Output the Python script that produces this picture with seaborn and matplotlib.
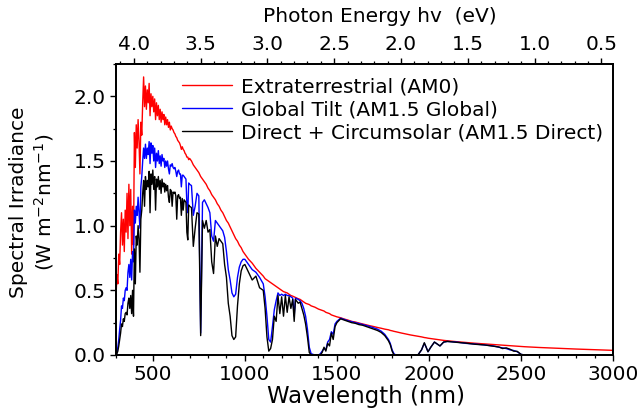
import matplotlib
matplotlib.use("Agg")
import matplotlib.pyplot as plt
from matplotlib.ticker import MultipleLocator, FormatStrFormatter
import seaborn as sns

# ---------------------------------------------------------------------------
# Solar spectral irradiance (W m^-2 nm^-1), sampled in four wavelength bands
# ---------------------------------------------------------------------------

# UV / visible band, 5 nm sampling
wl_uv = [300, 305, 310, 315, 320, 325, 330, 335, 340, 345,
         350, 355, 360, 365, 370, 375, 380, 385, 390, 395,
         400, 405, 410, 415, 420, 425, 430, 435, 440, 445,
         450, 455, 460, 465, 470, 475, 480, 485, 490, 495,
         500, 505, 510, 515, 520, 525, 530, 535, 540, 545,
         550, 555, 560, 565, 570, 575, 580, 585, 590, 595,
         600, 605, 610, 615, 620, 625, 630, 635, 640, 645,
         650, 655, 660, 665, 670, 675, 680, 685, 690, 695,
         700]
am0_uv = [0.45, 0.62, 0.55, 0.78, 0.70, 0.95, 1.10, 0.85, 1.05, 0.80,
          1.12, 0.95, 1.25, 0.90, 1.32, 1.00, 1.28, 0.78, 1.15, 0.85,
          1.72, 1.45, 1.78, 1.60, 1.82, 1.65, 1.40, 1.80, 1.70, 1.95,
          2.15, 1.92, 2.08, 1.90, 2.05, 1.95, 2.10, 1.85, 2.02, 1.92,
          2.00, 1.88, 1.98, 1.82, 1.95, 1.85, 1.93, 1.82, 1.90, 1.80,
          1.88, 1.82, 1.86, 1.78, 1.84, 1.78, 1.82, 1.76, 1.80, 1.74,
          1.77, 1.75, 1.74, 1.72, 1.71, 1.69, 1.68, 1.66, 1.65, 1.64,
          1.62, 1.59, 1.61, 1.59, 1.58, 1.56, 1.55, 1.53, 1.53, 1.51,
          1.52]
glob_uv = [0.00, 0.02, 0.06, 0.12, 0.20, 0.27, 0.38, 0.36, 0.44, 0.42,
           0.50, 0.52, 0.50, 0.64, 0.70, 0.60, 0.74, 0.58, 0.80, 0.72,
           1.12, 1.02, 1.15, 1.08, 1.22, 1.10, 0.98, 1.30, 1.38, 1.50,
           1.60, 1.52, 1.63, 1.52, 1.60, 1.55, 1.65, 1.48, 1.64, 1.56,
           1.62, 1.50, 1.60, 1.45, 1.56, 1.50, 1.58, 1.48, 1.54, 1.46,
           1.55, 1.50, 1.52, 1.45, 1.50, 1.46, 1.50, 1.44, 1.40, 1.47,
           1.46, 1.48, 1.45, 1.44, 1.45, 1.42, 1.38, 1.42, 1.43, 1.40,
           1.40, 1.30, 1.39, 1.39, 1.38, 1.37, 1.36, 1.17, 1.10, 1.33,
           1.32]
dir_uv = [0.00, 0.01, 0.03, 0.07, 0.12, 0.17, 0.24, 0.22, 0.28, 0.26,
          0.32, 0.33, 0.31, 0.40, 0.44, 0.36, 0.46, 0.32, 0.50, 0.30,
          0.82, 0.55, 0.92, 0.85, 1.00, 0.90, 0.64, 1.05, 1.12, 1.25,
          1.35, 1.15, 1.38, 1.28, 1.35, 1.30, 1.42, 1.10, 1.40, 1.32,
          1.43, 1.28, 1.38, 1.12, 1.36, 1.30, 1.38, 1.28, 1.35, 1.25,
          1.36, 1.30, 1.33, 1.26, 1.32, 1.27, 1.31, 1.22, 1.18, 1.28,
          1.27, 1.15, 1.26, 1.25, 1.26, 1.23, 1.05, 1.23, 1.24, 1.21,
          1.22, 1.08, 1.21, 1.12, 1.20, 1.19, 1.18, 0.95, 0.89, 1.16,
          1.15]

# Near infrared band, 10 nm sampling
wl_nir = [710, 720, 730, 740, 750, 760, 770, 780, 790, 800,
          810, 820, 830, 840, 850, 860, 870, 880, 890, 900,
          910, 920, 930, 940, 950, 960, 970, 980, 990, 1000]
am0_nir = [1.50, 1.47, 1.45, 1.43, 1.41, 1.38, 1.36, 1.34, 1.32, 1.29,
           1.27, 1.24, 1.22, 1.20, 1.17, 1.15, 1.12, 1.10, 1.07, 1.04,
           1.02, 0.99, 0.96, 0.93, 0.90, 0.88, 0.85, 0.83, 0.80, 0.78]
glob_nir = [1.31, 1.08, 1.15, 1.25, 1.23, 0.17, 1.18, 1.20, 1.17, 1.14,
            1.10, 0.92, 0.88, 1.04, 1.02, 1.00, 0.98, 0.96, 0.91, 0.80,
            0.66, 0.58, 0.48, 0.45, 0.47, 0.60, 0.68, 0.72, 0.74, 0.74]
dir_nir = [1.14, 0.84, 0.98, 1.10, 1.09, 0.15, 1.04, 0.98, 1.04, 0.95,
           0.97, 0.72, 0.63, 0.92, 0.84, 0.90, 0.88, 0.86, 0.70, 0.60,
           0.40, 0.30, 0.15, 0.12, 0.14, 0.38, 0.55, 0.65, 0.69, 0.70]

# Short-wave infrared band with the water absorption windows
wl_swir = [1020, 1040, 1060, 1080, 1100, 1110, 1120, 1130, 1140, 1150,
           1160, 1170, 1180, 1190, 1200, 1210, 1220, 1230, 1240, 1250,
           1260, 1268, 1275, 1290, 1300, 1310, 1320, 1330, 1340, 1350,
           1360, 1380, 1400, 1410, 1420, 1430, 1440, 1450, 1460, 1470,
           1480, 1490, 1500, 1520, 1540, 1560, 1580, 1600, 1620, 1640,
           1660, 1680, 1700, 1720, 1740, 1760, 1780, 1790, 1800, 1810,
           1820]
am0_swir = [0.74, 0.71, 0.67, 0.64, 0.61, 0.59, 0.58, 0.57, 0.56, 0.55,
            0.54, 0.53, 0.52, 0.51, 0.50, 0.49, 0.485, 0.48, 0.47, 0.46,
            0.455, 0.45, 0.445, 0.435, 0.43, 0.42, 0.41, 0.40, 0.395, 0.39,
            0.38, 0.37, 0.355, 0.35, 0.345, 0.34, 0.33, 0.325, 0.32, 0.31,
            0.305, 0.30, 0.295, 0.288, 0.278, 0.27, 0.26, 0.255, 0.247, 0.24,
            0.233, 0.226, 0.22, 0.213, 0.207, 0.20, 0.195, 0.19, 0.187, 0.183,
            0.18]
glob_swir = [0.70, 0.66, 0.64, 0.60, 0.55, 0.45, 0.30, 0.12, 0.10, 0.22,
             0.35, 0.42, 0.48, 0.46, 0.47, 0.46, 0.47, 0.46, 0.46, 0.45,
             0.44, 0.30, 0.44, 0.43, 0.42, 0.40, 0.36, 0.30, 0.20, 0.06,
             0.01, 0.00, 0.00, 0.01, 0.03, 0.05, 0.04, 0.10, 0.12, 0.18,
             0.16, 0.24, 0.26, 0.285, 0.275, 0.265, 0.258, 0.25, 0.243, 0.236,
             0.228, 0.22, 0.21, 0.20, 0.185, 0.16, 0.12, 0.09, 0.04, 0.01,
             0.00]
dir_swir = [0.64, 0.58, 0.61, 0.52, 0.50, 0.36, 0.14, 0.03, 0.05, 0.12,
            0.30, 0.26, 0.46, 0.32, 0.45, 0.30, 0.46, 0.33, 0.45, 0.36,
            0.43, 0.26, 0.43, 0.40, 0.41, 0.36, 0.31, 0.24, 0.14, 0.02,
            0.00, 0.00, 0.00, 0.00, 0.02, 0.06, 0.03, 0.09, 0.07, 0.17,
            0.12, 0.22, 0.25, 0.28, 0.27, 0.26, 0.25, 0.245, 0.235, 0.23,
            0.22, 0.21, 0.20, 0.19, 0.175, 0.15, 0.11, 0.08, 0.03, 0.00,
            0.00]

# Infrared tail
wl_ir = [1850, 1900, 1940, 1960, 1975, 1985, 1995, 2010, 2030, 2045,
         2060, 2080, 2100, 2150, 2200, 2250, 2300, 2350, 2380, 2400,
         2420, 2440, 2460, 2480, 2500, 2520, 2600, 2700, 2800, 2900,
         3000]
am0_ir = [0.17, 0.155, 0.145, 0.14, 0.135, 0.133, 0.13, 0.127, 0.123, 0.12,
          0.117, 0.113, 0.11, 0.103, 0.097, 0.091, 0.086, 0.081, 0.078, 0.076,
          0.074, 0.072, 0.07, 0.068, 0.066, 0.064, 0.058, 0.052, 0.046, 0.041,
          0.036]
glob_ir = [0.0, 0.0, 0.0, 0.04, 0.09, 0.06, 0.025, 0.06, 0.10, 0.085,
           0.07, 0.10, 0.105, 0.10, 0.09, 0.085, 0.078, 0.07, 0.06, 0.055,
           0.05, 0.04, 0.035, 0.025, 0.005, 0.0, 0.0, 0.0, 0.0, 0.0,
           0.0]
dir_ir = [0.0, 0.0, 0.0, 0.04, 0.095, 0.06, 0.025, 0.06, 0.10, 0.085,
          0.07, 0.10, 0.105, 0.098, 0.092, 0.083, 0.078, 0.068, 0.062, 0.05,
          0.055, 0.045, 0.03, 0.028, 0.005, 0.0, 0.0, 0.0, 0.0, 0.0,
          0.0]

energy_ticks = [4.0, 3.5, 3.0, 2.5, 2.0, 1.5, 1.0, 0.5]

wavelength = wl_uv + wl_nir + wl_swir + wl_ir
am0 = am0_uv + am0_nir + am0_swir + am0_ir
glob = glob_uv + glob_nir + glob_swir + glob_ir
direct = dir_uv + dir_nir + dir_swir + dir_ir
assert len(wavelength) == len(am0) == len(glob) == len(direct)

# ---------------------------------------------------------------------------
sns.set_style("ticks")
plt.rcParams.update({
    "font.family": ["DejaVu Sans"],
    "axes.edgecolor": "black",
    "axes.linewidth": 1.3,
    "xtick.color": "black",
    "ytick.color": "black",
    "text.color": "black",
    "axes.labelcolor": "black",
    "xtick.direction": "out",
    "ytick.direction": "out",
})

W, H = 638, 412
fig = plt.figure(figsize=(W / 100, H / 100), dpi=100)
ax = fig.add_axes([116 / W, 1 - 355 / H, 497 / W, 291 / H])

series = [
    (am0, "#ff0000", "Extraterrestrial (AM0)"),
    (glob, "#0000ff", "Global Tilt (AM1.5 Global)"),
    (direct, "#000000", "Direct + Circumsolar (AM1.5 Direct)"),
]
for values, color, label in series:
    sns.lineplot(x=wavelength, y=values, ax=ax, color=color, lw=1.0,
                 label=label, estimator=None, sort=False)

ax.set_xlim(300, 3000)
ax.set_ylim(0, 2.25)
ax.xaxis.set_major_locator(MultipleLocator(500))
ax.xaxis.set_minor_locator(MultipleLocator(100))
ax.yaxis.set_major_locator(MultipleLocator(0.5))
ax.yaxis.set_minor_locator(MultipleLocator(0.25))
ax.yaxis.set_major_formatter(FormatStrFormatter("%.1f"))
ax.tick_params(which="major", length=4.5, width=1.0, labelsize=14.5, pad=3)
ax.tick_params(which="minor", length=2.5, width=0.9)
ax.tick_params(which="both", top=False, right=False)

ax.set_xlabel("Wavelength (nm)", fontsize=16.5, va="center")
ax.xaxis.set_label_coords(0.503, -0.141)
ax.set_ylabel("Spectral Irradiance\n(W m$^{-2}$nm$^{-1}$)", fontsize=14.5,
              va="center", ha="center", linespacing=1.25)
ax.yaxis.set_label_coords(-0.168, 0.526)

# Photon-energy scale along the top edge
ax_top = ax.twiny()
ax_top.set_xlim(1240 / 300, 1240 / 3000)
ax_top.set_xticks(energy_ticks)
ax_top.xaxis.set_minor_locator(MultipleLocator(0.1))
ax_top.xaxis.set_major_formatter(FormatStrFormatter("%.1f"))
ax_top.tick_params(which="major", length=4.5, width=1.0, labelsize=14.5, pad=3)
ax_top.tick_params(which="minor", length=2.5, width=0.9)
ax_top.set_xlabel("Photon Energy hv  (eV)", fontsize=14.5, va="center")
ax_top.xaxis.set_label_coords(0.531, 1.162)

handles, labels = ax.get_legend_handles_labels()
ax.legend(handles, labels, loc="upper left", bbox_to_anchor=(0.133, 0.954),
          frameon=False, fontsize=14.5, handlelength=2.5, handletextpad=0.4,
          labelspacing=0.2, borderaxespad=0, borderpad=0)

fig.savefig("out.png", dpi=100)
